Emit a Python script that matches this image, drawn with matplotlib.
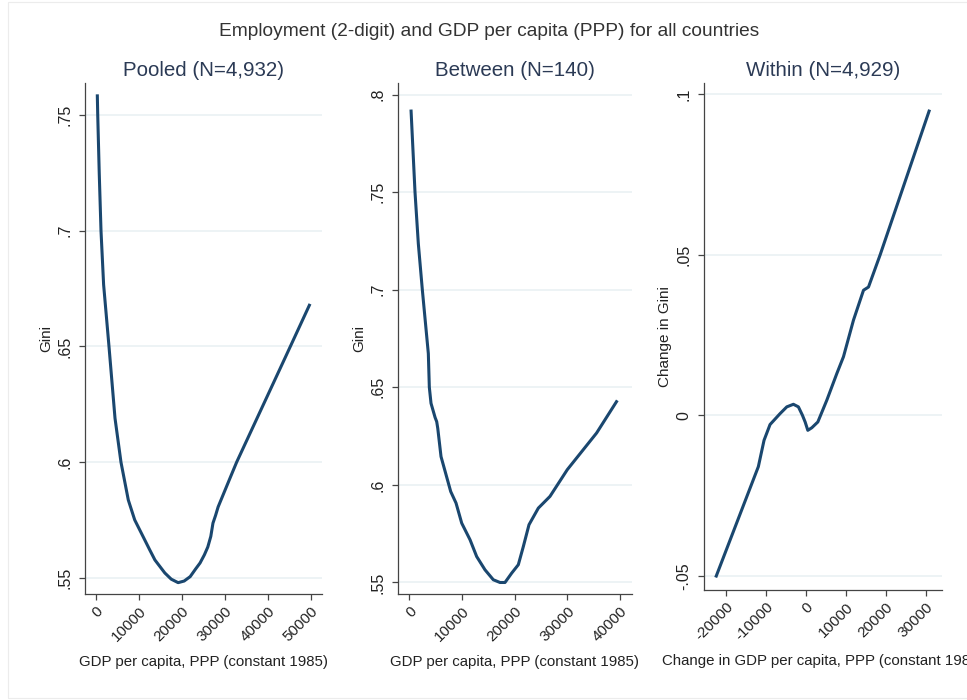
import matplotlib
matplotlib.use("Agg")
import matplotlib.pyplot as plt
from matplotlib.patches import Rectangle

plt.rcParams['font.family'] = ['Liberation Sans', 'DejaVu Sans']

suptitle = "Employment (2-digit) and GDP per capita (PPP) for all countries"

# Pooled fit: Gini against GDP per capita
pooled_title = "Pooled (N=4,932)"
pooled_gdp = [300, 400, 750, 1160, 1770, 3020, 4420, 5810, 7510, 9000,
              11000, 12400, 13700, 16000, 17500, 19100, 20500, 21900, 23200,
              24200, 25200, 26000, 26700, 27200, 27800, 28400, 31200, 32700,
              38000, 44000, 49770]
pooled_gini = [0.7589, 0.750, 0.725, 0.700, 0.6767, 0.650, 0.619, 0.600,
               0.5837, 0.5751, 0.5677, 0.5625, 0.5578, 0.5522, 0.5495,
               0.548, 0.5487, 0.5506, 0.554, 0.5565, 0.560, 0.5634, 0.568,
               0.5737, 0.577, 0.5807, 0.5933, 0.600, 0.6212, 0.6452, 0.6684]
pooled_xticks = [0, 10000, 20000, 30000, 40000, 50000]
pooled_yticks = [0.55, 0.60, 0.65, 0.70, 0.75]
pooled_yticklabels = [".55", ".6", ".65", ".7", ".75"]

# Between fit: country means
between_title = "Between (N=140)"
between_gdp = [320, 1080, 1710, 2470, 3610, 3800, 4120, 4900, 5200, 5400, 6020,
               7860, 8870, 9950, 11530, 12790, 14370, 15950, 17220, 18170,
               19440, 20700, 21650, 22730, 24500, 26710, 30000, 35570, 39500]
between_gini = [0.7923, 0.750, 0.7236, 0.700, 0.6673, 0.650, 0.6418, 0.6345,
                0.6324, 0.6290, 0.6145, 0.5966, 0.5907, 0.5804, 0.5719, 0.5633,
                0.5565, 0.5514, 0.550, 0.550, 0.5548, 0.5591, 0.5684, 0.5796,
                0.5881, 0.5941, 0.6078, 0.6266, 0.6433]
between_xticks = [0, 10000, 20000, 30000, 40000]
between_yticks = [0.55, 0.60, 0.65, 0.70, 0.75, 0.80]
between_yticklabels = [".55", ".6", ".65", ".7", ".75", ".8"]

# Within fit: changes relative to country means
within_title = "Within (N=4,929)"
within_dgdp = [-22500, -11850, -10430, -8930, -6430, -4750, -3100, -1850, -850,
               -170, 500, 1500, 3000, 5250, 7750, 9400, 11900, 14400, 15650,
               18580, 30900]
within_dgini = [-0.0505, -0.0160, -0.0078, -0.0029, 0.0005, 0.0026, 0.0034,
                0.0026, 0.0, -0.0021, -0.0047, -0.0039, -0.0021, 0.0047, 0.0130,
                0.0182, 0.0296, 0.0389, 0.0399, 0.0500, 0.0951]
within_xticks = [-20000, -10000, 0, 10000, 20000, 30000]
within_yticks = [-0.05, 0.0, 0.05, 0.10]
within_yticklabels = ["-.05", "0", ".05", ".1"]

xlabel_levels = "GDP per capita, PPP (constant 1985)"
xlabel_changes = "Change in GDP per capita, PPP (constant 1985)"
ylabel_levels = "Gini"
ylabel_changes = "Change in Gini"

LINE = "#1a476f"
GRID = "#e8f0f2"
AXIS = "#444444"
TEXT = "#222222"
SUB = "#2b3a55"

fig = plt.figure(figsize=(9.67, 7.0), dpi=100)
fig.patch.set_facecolor("white")
fig.patches.append(Rectangle((8 / 967, 2 / 700), 1.2, 696 / 700,
                             transform=fig.transFigure, fill=False,
                             edgecolor="#ececec", lw=0.8))

W, H = 967.0, 700.0


def make_axes(x0, x1, y0, y1):
    return fig.add_axes([x0 / W, 1 - y1 / H, (x1 - x0) / W, (y1 - y0) / H])


panels = [
    dict(box=(85, 322, 83, 594), title=pooled_title, x=pooled_gdp, y=pooled_gini,
         xlim=(-2560, 52560), ylim=(0.5431, 0.7638), xt=pooled_xticks,
         yt=pooled_yticks, ytl=pooled_yticklabels, xl=xlabel_levels,
         yl=ylabel_levels),
    dict(box=(398, 632, 83, 594), title=between_title, x=between_gdp,
         y=between_gini, xlim=(-2150, 42290), ylim=(0.5441, 0.8059),
         xt=between_xticks, yt=between_yticks, ytl=between_yticklabels,
         xl=xlabel_levels, yl=ylabel_levels),
    dict(box=(704, 942, 83, 590), title=within_title, x=within_dgdp,
         y=within_dgini, xlim=(-25420, 34000), ylim=(-0.0544, 0.1034),
         xt=within_xticks, yt=within_yticks, ytl=within_yticklabels,
         xl=xlabel_changes, yl=ylabel_changes),
]

for p in panels:
    ax = make_axes(*p["box"])
    ax.plot(p["x"], p["y"], color=LINE, lw=2.2, solid_capstyle="butt",
            solid_joinstyle="round", zorder=3)
    ax.set_xlim(*p["xlim"])
    ax.set_ylim(*p["ylim"])
    ax.set_yticks(p["yt"])
    ax.set_yticklabels(p["ytl"], rotation=90, va="center", fontsize=11.5,
                       color=TEXT)
    ax.set_xticks(p["xt"])
    ax.set_xticklabels([str(v) for v in p["xt"]], rotation=45, ha="right",
                       va="top", rotation_mode="anchor", fontsize=11,
                       color=TEXT)
    for s in ("top", "right"):
        ax.spines[s].set_visible(False)
    for s in ("left", "bottom"):
        ax.spines[s].set_color(AXIS)
        ax.spines[s].set_linewidth(0.9)
    ax.tick_params(axis="both", direction="out", length=4, width=0.9,
                   color=AXIS)
    ax.tick_params(axis="y", pad=5)
    ax.tick_params(axis="x", pad=3)
    ax.grid(axis="y", color=GRID, lw=1.1, zorder=0)
    ax.set_axisbelow(True)
    ax.set_title(p["title"], fontsize=14.8, color=SUB, pad=5)
    ax.set_xlabel(p["xl"], fontsize=10.8, color=TEXT, labelpad=8)
    ax.set_ylabel(p["yl"], fontsize=11, color=TEXT, labelpad=3)

fig.text(489 / W, 1 - 31 / H, suptitle, ha="center", va="center",
         fontsize=13.8, color="#333333")

fig.savefig("out.png", dpi=100, facecolor="white")
